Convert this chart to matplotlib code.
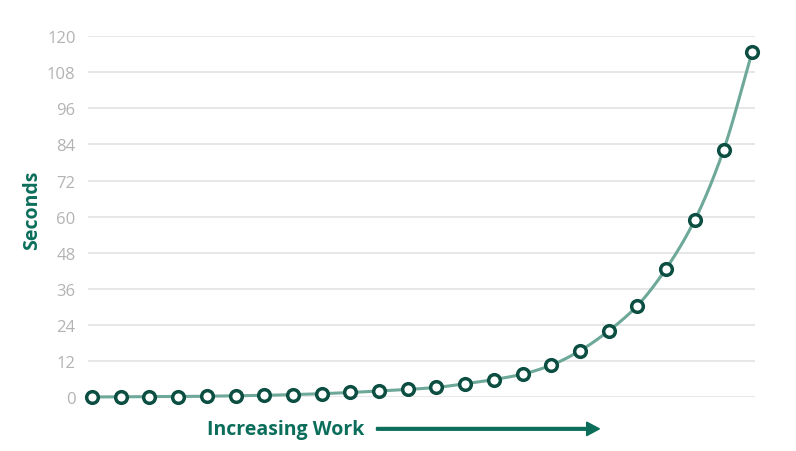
import numpy as np
import matplotlib.pyplot as plt

# values (seconds per step of increasing work)
steps = list(range(24))
seconds = [0.0, 0.05, 0.1, 0.15, 0.25, 0.4, 0.55, 0.8, 1.1, 1.5, 2.0, 2.5,
           3.2, 4.4, 5.8, 7.6, 10.6, 15.4, 22.0, 30.4, 42.7, 58.9, 82.1, 114.9]
yticks = [0, 12, 24, 36, 48, 60, 72, 84, 96, 108, 120]

LINE = "#6da898"
MARK = "#0c4f42"
TEAL = "#0b6e5b"
TICK = "#b3b3b3"
GRID = "#e3e3e3"

plt.rcParams["font.family"] = ["Open Sans", "DejaVu Sans"]


def pchip(x, y, n=20):
    # monotone cubic so the drawn line is smooth like the original
    x = np.asarray(x, float)
    y = np.asarray(y, float)
    h = np.diff(x)
    d = np.diff(y) / h
    m = np.zeros_like(y)
    for k in range(1, len(y) - 1):
        if d[k - 1] * d[k] > 0:
            w1 = 2 * h[k] + h[k - 1]
            w2 = h[k] + 2 * h[k - 1]
            m[k] = (w1 + w2) / (w1 / d[k - 1] + w2 / d[k])
    m[0] = d[0]
    m[-1] = d[-1]
    xs, ys = [], []
    for k in range(len(x) - 1):
        t = np.linspace(0, 1, n, endpoint=False)
        h00 = 2 * t**3 - 3 * t**2 + 1
        h10 = t**3 - 2 * t**2 + t
        h01 = -2 * t**3 + 3 * t**2
        h11 = t**3 - t**2
        xs.append(x[k] + t * h[k])
        ys.append(h00 * y[k] + h10 * h[k] * m[k] + h01 * y[k + 1] + h11 * h[k] * m[k + 1])
    xs.append([x[-1]])
    ys.append([y[-1]])
    return np.concatenate(xs), np.concatenate(ys)


fig = plt.figure(figsize=(7.96, 4.52), dpi=100)
ax = fig.add_axes([0.1106, 0.1195, 0.838, 0.798])

sx, sy = pchip(steps, seconds)
ax.plot(sx, sy, color=LINE, lw=2.2, zorder=2, clip_on=False)
ax.plot(steps, seconds, ls="none", marker="o", ms=8.4, mfc="white", mec=MARK,
        mew=2.5, zorder=3, clip_on=False)

ax.set_xlim(-0.14, 23.1)
ax.set_ylim(0, 120)
ax.set_yticks(yticks)
ax.set_xticks([])
ax.tick_params(axis="y", length=0, pad=9, labelsize=12, labelcolor=TICK)
ax.grid(axis="y", color=GRID, lw=1.2)
ax.set_axisbelow(True)
for s in ax.spines.values():
    s.set_visible(False)

fig.text(0.04, 0.535, "Seconds", rotation=90, ha="center", va="center",
         fontsize=14, fontweight="bold", color=TEAL)

fig.text(0.26, 0.049, "Increasing Work", ha="left", va="center",
         fontsize=14, fontweight="bold", color=TEAL)
fig.patches.append(plt.matplotlib.patches.FancyArrow(
    0.473, 0.049, 0.28, 0, width=0.006, head_width=0.03, head_length=0.016,
    length_includes_head=True, color=TEAL, transform=fig.transFigure, figure=fig))

fig.savefig("out.png", dpi=100)
